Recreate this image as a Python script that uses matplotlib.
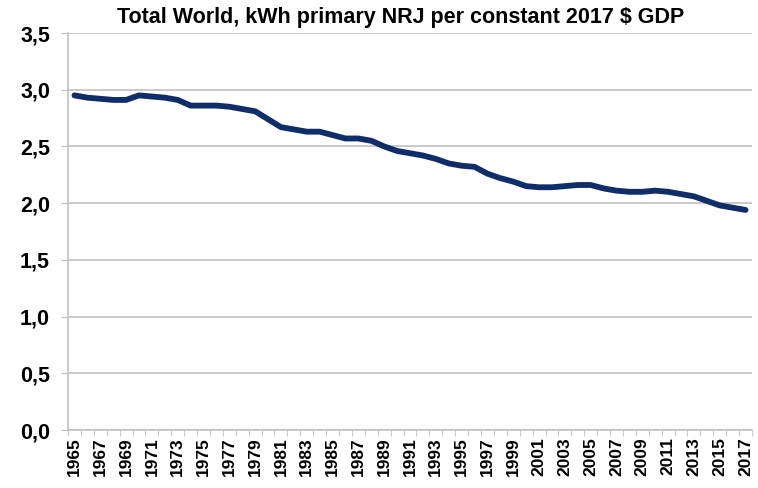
import numpy as np
import matplotlib.pyplot as plt
from matplotlib.ticker import FixedLocator, FuncFormatter

plt.rcParams['font.family'] = ['Liberation Sans', 'DejaVu Sans']

# Data
years = list(range(1965, 2018))
kwh_per_gdp = [2.95, 2.93, 2.92, 2.91, 2.91, 2.95, 2.94, 2.93, 2.91, 2.86,
               2.86, 2.86, 2.85, 2.83, 2.81, 2.74, 2.67, 2.65, 2.63, 2.63,
               2.60, 2.57, 2.57, 2.55, 2.50, 2.46, 2.44, 2.42, 2.39, 2.35,
               2.33, 2.32, 2.26, 2.22, 2.19, 2.15, 2.14, 2.14, 2.15, 2.16,
               2.16, 2.13, 2.11, 2.10, 2.10, 2.11, 2.10, 2.08, 2.06, 2.02,
               1.98, 1.96, 1.94]
yticks = [0.0, 0.5, 1.0, 1.5, 2.0, 2.5, 3.0, 3.5]

fig = plt.figure(figsize=(7.58, 4.88), dpi=100)
ax = fig.add_axes([68 / 758, 1 - 430 / 488, (752 - 68) / 758, (430 - 33) / 488])

x = np.arange(len(years))
ax.plot(x, kwh_per_gdp, color='#0f2d69', lw=4.2, solid_capstyle='round',
        solid_joinstyle='round', zorder=3)

ax.set_xlim(-0.5, len(years) - 0.5)
ax.set_ylim(0, 3.5)

grid_col = '#c0c0c0'
ax.set_yticks(yticks)
ax.yaxis.set_major_formatter(FuncFormatter(lambda v, p: f'{v:.1f}'.replace('.', ',')))
ax.grid(axis='y', color=grid_col, lw=1.2)
ax.set_axisbelow(True)

# category labels every other year, tick marks between categories
ax.set_xticks(x[::2])
ax.set_xticklabels([str(y) for y in years[::2]], rotation=90)
ax.xaxis.set_minor_locator(FixedLocator(np.arange(-0.5, len(years), 1.0)))
ax.tick_params(axis='x', which='major', length=0, pad=5)
ax.tick_params(axis='x', which='minor', length=4, color=grid_col, direction='out')
ax.tick_params(axis='y', length=5, color=grid_col, pad=8)

for lab in ax.get_xticklabels():
    lab.set_fontsize(12.5)
    lab.set_fontweight('bold')
for lab in ax.get_yticklabels():
    lab.set_fontsize(15.5)
    lab.set_fontweight('bold')

for side in ['top', 'right']:
    ax.spines[side].set_visible(False)
for side in ['left', 'bottom']:
    ax.spines[side].set_color(grid_col)
    ax.spines[side].set_linewidth(1.2)

fig.text(0.528, 0.965, 'Total World, kWh primary NRJ per constant 2017 $ GDP',
         ha='center', va='center', fontsize=15.5, fontweight='bold')

fig.savefig('out.png', dpi=100)
